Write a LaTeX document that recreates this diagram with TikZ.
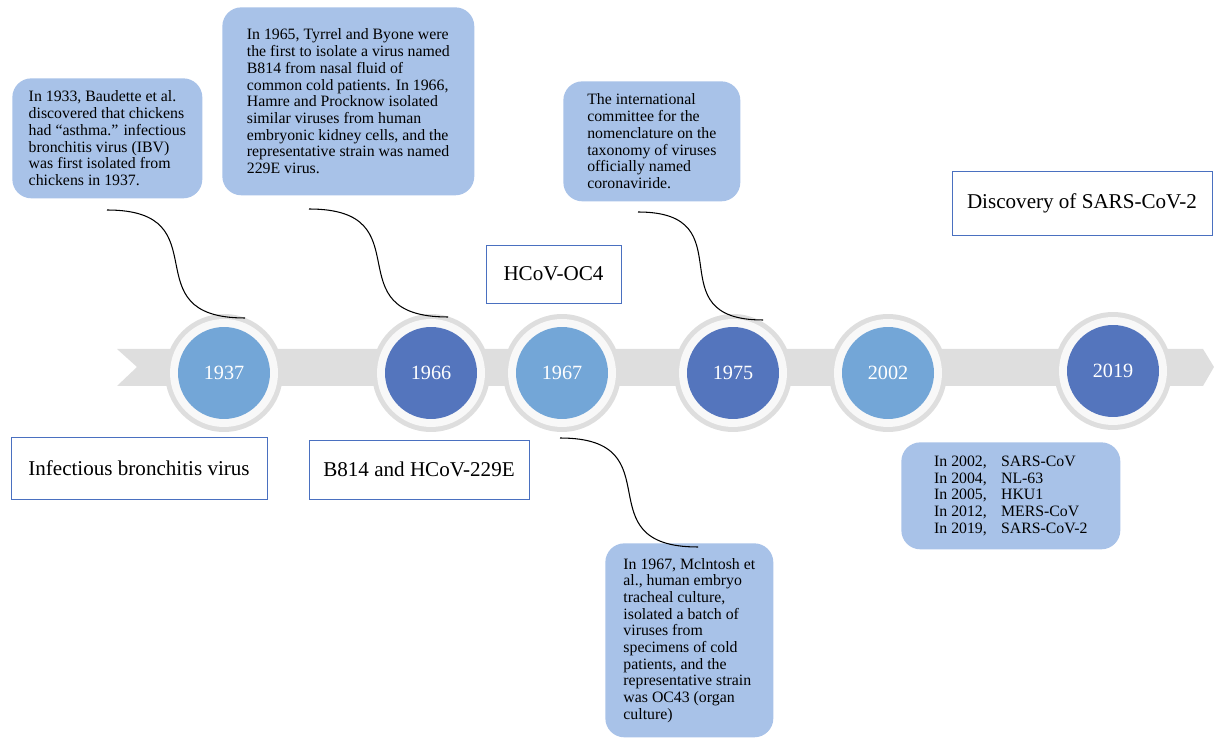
\documentclass[tikz,border=0pt]{standalone}
\usepackage{fontspec}
\setmainfont{Liberation Serif}
\usetikzlibrary{calc}
\definecolor{bandgray}{HTML}{DEDEDE}
\definecolor{halowhite}{HTML}{F8F8F8}
\definecolor{lightdot}{HTML}{73A6D7}
\definecolor{darkdot}{HTML}{5475BD}
\definecolor{notefill}{HTML}{A8C2E8}
\definecolor{tagline}{HTML}{4A70C0}
\newcommand{\notefont}{\fontsize{9}{9.5}\selectfont}

\begin{document}
\begin{tikzpicture}[x=0.02cm, y=-0.02cm,
        ring/.style={circle, fill=bandgray, inner sep=0, minimum size=2.36cm},
        halo/.style={circle, fill=halowhite, inner sep=0, minimum size=2.16cm},
        dot/.style={circle, fill=#1, inner sep=0, minimum size=1.84cm, text=white,
            font=\fontsize{11.5}{12}\selectfont},
        note/.style={fill=notefill, rounded corners=0.38cm, align=left, anchor=north west,
            inner xsep=0pt, font=\notefont},
        tag/.style={draw=tagline, line width=0.5pt, font=\fontsize{12}{14}\selectfont},
        link/.style={line width=0.6pt},
        swoop/.style={out=0, in=180, looseness=1.7}]
        \useasboundingbox (0, 0) rectangle (1214, 739);

        % the gray band
        \fill[bandgray] (117, 349) -- (1203, 349) -- (1214, 367) -- (1203, 386)
            -- (117, 386) -- (137, 367) -- cycle;

        % years on the band
        \foreach \yr/\xx/\yy/\col in {1937/224/373/lightdot, 1966/431/373/darkdot,
                1967/562/373/lightdot, 1975/733/373/darkdot,
                2002/888/373/lightdot, 2019/1113/371/darkdot} {
            \node[ring] (ring\yr) at (\xx, \yy) {};
            \node[halo] (halo\yr) at (\xx, \yy) {};
            \node[dot=\col] (dot\yr) at (\xx, \yy) {\yr};
        }

        % notes
        \node[note, minimum width=3.8cm, minimum height=2.4cm] (note1937) at (12, 78)
            {In 1933, Baudette et al.\\ discovered that chickens\\ had ``asthma.'' infectious\\
             bronchitis virus (IBV)\\ was first isolated from\\ chickens in 1937.};
        \node[note, minimum width=5.04cm, minimum height=3.76cm] (note1966) at (222, 7)
            {In 1965, Tyrrel and Byone were\\ the first to isolate a virus named\\ B814 from nasal fluid of\\
             common cold patients. In 1966,\\ Hamre and Procknow isolated\\ similar viruses from human\\
             embryonic kidney cells, and the\\ representative strain was named\\ 229E virus.};
        \node[note, minimum width=3.54cm, minimum height=2.4cm] (note1975) at (563, 81)
            {The international\\ committee for the\\ nomenclature on the\\ taxonomy of viruses\\
             officially named\\ coronaviride.};
        \node[note, minimum width=3.36cm, minimum height=3.88cm] (note1967) at (605, 543)
            {In 1967, Mclntosh et\\ al., human embryo\\ tracheal culture,\\ isolated a batch of\\
             viruses from\\ specimens of cold\\ patients, and the\\ representative strain\\
             was OC43 (organ\\ culture)};
        \node[note, minimum width=4.38cm, minimum height=2.14cm] (note2019) at (901, 442)
            {\makebox[1.34cm][l]{In 2002,}SARS-CoV\\ \makebox[1.34cm][l]{In 2004,}NL-63\\
             \makebox[1.34cm][l]{In 2005,}HKU1\\ \makebox[1.34cm][l]{In 2012,}MERS-CoV\\
             \makebox[1.34cm][l]{In 2019,}SARS-CoV-2};

        % labels in frames
        \node[tag, minimum width=5.12cm, minimum height=1.24cm] (ibv) at (139, 468) {Infectious bronchitis virus};
        \node[tag, minimum width=4.4cm, minimum height=1.18cm] (b814) at (419, 469.5) {B814 and HCoV-229E};
        \node[tag, minimum width=2.7cm, minimum height=1.16cm] (oc4) at (553.5, 274) {HCoV-OC4};
        \node[tag, minimum width=5.2cm, minimum height=1.28cm] (sars) at (1082, 203) {Discovery of SARS-CoV-2};

        % curved links
        \coordinate (from1937) at (107, 210);
        \coordinate (to1937) at (245, 318);
        \coordinate (from1966) at (309, 209);
        \coordinate (to1966) at (448, 317);
        \coordinate (from1975) at (638, 212);
        \coordinate (to1975) at (763, 320);
        \coordinate (from1967) at (560, 438);
        \coordinate (to1967) at (698, 547);
        \foreach \yr in {1937, 1966, 1975, 1967}
            \draw[link] (from\yr) to[swoop] (to\yr);
    \end{tikzpicture}
\end{document}
